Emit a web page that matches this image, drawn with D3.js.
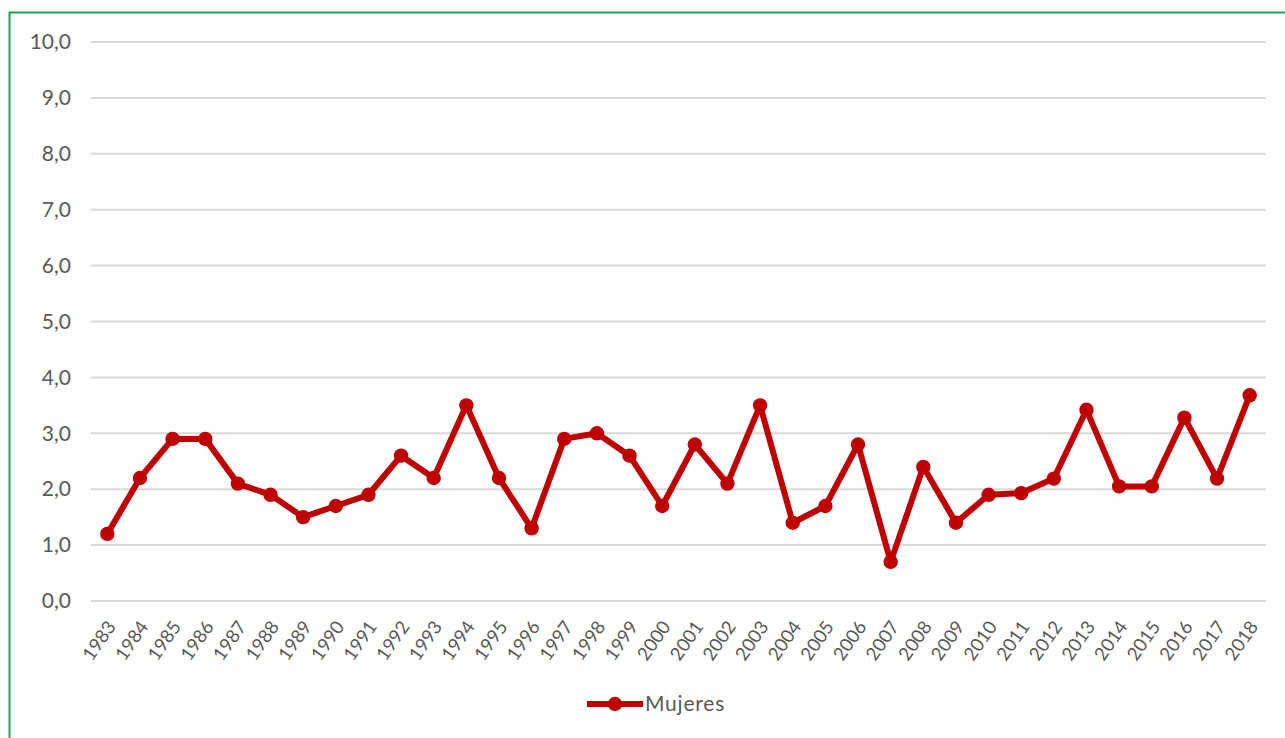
<!DOCTYPE html>
<html><head><meta charset="utf-8">
<script src="https://cdn.jsdelivr.net/npm/d3@7"></script>
<style>body{margin:0;background:#fff}svg{display:block}</style>
</head><body>
<script>
const years = ["1983","1984","1985","1986","1987","1988","1989","1990","1991","1992","1993","1994","1995","1996","1997","1998","1999","2000","2001","2002","2003","2004","2005","2006","2007","2008","2009","2010","2011","2012","2013","2014","2015","2016","2017","2018"];
const mujeres = [1.2,2.2,2.9,2.9,2.1,1.9,1.5,1.7,1.9,2.6,2.2,3.5,2.2,1.3,2.9,3.0,2.6,1.7,2.8,2.1,3.5,1.4,1.7,2.8,0.7,2.4,1.4,1.9,1.93,2.19,3.42,2.05,2.05,3.28,2.19,3.68];
const yTicks = [0,1,2,3,4,5,6,7,8,9,10];
const seriesName = "Mujeres";

(function(){
const W = 1285, H = 738;
const svg = d3.select("body").append("svg").attr("width", W).attr("height", H);
svg.append("rect").attr("x",0).attr("y",0).attr("width",W).attr("height",H).attr("fill","#fff");
// green frame
svg.append("rect").attr("x",9.5).attr("y",12.5).attr("width",W+20).attr("height",H+20)
  .attr("fill","none").attr("stroke","#2e9a5e").attr("stroke-width",2);

const mL = 91, mR = 1266, mT = 42, mB = 601;
const x = d3.scaleBand().domain(years).range([mL, mR]);
const y = d3.scaleLinear().domain([0,10]).range([mB, mT]);
const font = "Lato, 'Open Sans', sans-serif";

// gridlines
svg.append("g").selectAll("line").data(yTicks).join("line")
  .attr("x1", mL).attr("x2", mR)
  .attr("y1", d => y(d)).attr("y2", d => y(d))
  .attr("stroke", "#d9d9d9").attr("stroke-width", 2);

// y axis labels
const yAxis = d3.axisLeft(y).tickValues(yTicks).tickSize(0).tickPadding(20)
  .tickFormat(d => d3.format(".1f")(d).replace(".", ","));
const gy = svg.append("g").attr("transform", `translate(${mL},0)`).call(yAxis);
gy.select(".domain").remove();
gy.selectAll("text").attr("fill","#595959").style("font-family",font).style("font-size","21px");

// x axis labels
const xAxis = d3.axisBottom(x).tickSize(0).tickPadding(0);
const gx = svg.append("g").attr("transform", `translate(0,${mB})`).call(xAxis);
gx.select(".domain").remove();
gx.selectAll(".tick text").attr("fill","#595959").style("font-family",font).style("font-size","18.5px")
  .attr("text-anchor","end").attr("x",null).attr("y",null).attr("dy","0.35em")
  .attr("transform","translate(4,22) rotate(-55)");

// line
const cx = d => x(d) + x.bandwidth()/2;
const line = d3.line().x((d,i) => cx(years[i])).y(d => y(d));
svg.append("path").datum(mujeres).attr("d", line)
  .attr("fill","none").attr("stroke","#c00000").attr("stroke-width",6).attr("stroke-linejoin","round");
svg.append("g").selectAll("circle").data(mujeres).join("circle")
  .attr("cx",(d,i)=>cx(years[i])).attr("cy",d=>y(d)).attr("r",7.2).attr("fill","#c00000");

// legend
const lg = svg.append("g").attr("transform","translate(587,704)");
lg.append("line").attr("x1",0).attr("x2",56).attr("y1",0).attr("y2",0).attr("stroke","#c00000").attr("stroke-width",6);
lg.append("circle").attr("cx",28).attr("cy",0).attr("r",7.2).attr("fill","#c00000");
lg.append("text").attr("x",58).attr("y",0).attr("dy","0.35em").text(seriesName)
  .attr("fill","#595959").style("font-family",font).style("font-size","21px").style("letter-spacing","0.8px");
})();
</script>
</body></html>
